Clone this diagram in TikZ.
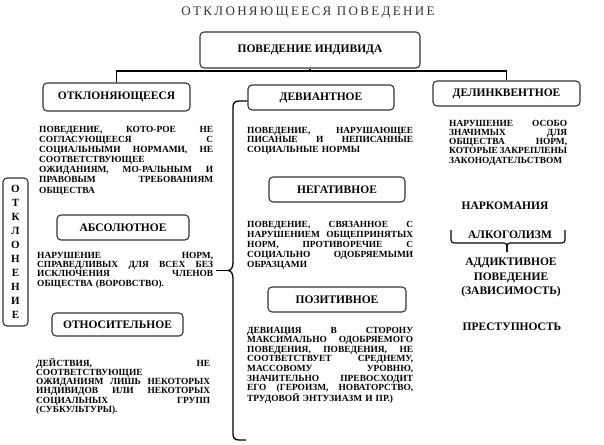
\documentclass[tikz,border=0pt]{standalone}
\usepackage{fontspec}
\setmainfont{Liberation Serif}
\newfontfamily\titlefont[LetterSpace=18]{Liberation Serif}
\newcommand\jw{174pt}
\newcommand\J[1]{\leavevmode\hbox to \jw{#1}}
\newcommand\dfont[2]{\fontsize{9.4}{#1}\selectfont\bfseries\renewcommand\jw{#2}}
\tikzset{
  box/.style={draw=black!80, line width=1.1pt, rounded corners=4pt, fill=white,
    font=\fontsize{11.5}{13}\selectfont\bfseries, inner sep=0pt},
  desc/.style={inner sep=0pt, align=left, anchor=base west},
  conn/.style={line width=1.3pt, black},
  word/.style={font=\fontsize{11.5}{14.5}\selectfont\bfseries, align=center, inner sep=0pt}
}
\begin{document}
\begin{tikzpicture}[x=1pt,y=-1pt]
\useasboundingbox (0,0) rectangle (604,444);
% title
\node[font={\fontsize{13}{15}\titlefont}, text=black!80, inner sep=0pt] (title) at (308,13) {ОТКЛОНЯЮЩЕЕСЯ ПОВЕДЕНИЕ};
% boxes
\node[box, minimum width=220pt, minimum height=36pt] (top) at (310,50) {ПОВЕДЕНИЕ ИНДИВИДА};
\node[box, minimum width=147pt, minimum height=28pt] (otk) at (116.5,97) {ОТКЛОНЯЮЩЕЕСЯ};
\node[box, minimum width=146pt, minimum height=25pt] (dev) at (321,97.5) {ДЕВИАНТНОЕ};
\node[box, minimum width=147pt, minimum height=25pt] (del) at (506.5,93.5) {ДЕЛИНКВЕНТНОЕ};
\node[box, minimum width=132pt, minimum height=25pt] (abs) at (123,227.5) {АБСОЛЮТНОЕ};
\node[box, minimum width=131pt, minimum height=23pt] (otn) at (117.5,324.5) {ОТНОСИТЕЛЬНОЕ};
\node[box, minimum width=136pt, minimum height=25pt] (neg) at (337,189.5) {НЕГАТИВНОЕ};
\node[box, minimum width=138pt, minimum height=25pt] (poz) at (337,299.5) {ПОЗИТИВНОЕ};
\node[box, minimum width=25pt, minimum height=148pt, align=center,
  font=\fontsize{11}{14}\selectfont\bfseries] (vert) at (15.5,252)
  {О\\Т\\К\\Л\\О\\Н\\Е\\Н\\И\\Е};
% descriptions
\node[desc, text width=174pt, font=\dfont{10.05}{174pt}] (otktext) at (39,132.7)
 {\J{ПОВЕДЕНИЕ,\hfill КОТО-РОЕ\hfill НЕ}\\
  \J{СОГЛАСУЮЩЕЕСЯ\hfill С}\\
  \J{СОЦИАЛЬНЫМИ\hfill НОРМАМИ,\hfill НЕ}\\
  СООТВЕТСТВУЮЩЕЕ\\
  \J{ОЖИДАНИЯМ,\hfill МО-РАЛЬНЫМ\hfill И}\\
  \J{ПРАВОВЫМ\hfill ТРЕБОВАНИЯМ}\\
  ОБЩЕСТВА};
\node[desc, text width=176pt, font=\dfont{9.4}{176pt}] (abstext) at (37,258)
 {\J{НАРУШЕНИЕ\hfill НОРМ,}\\
  \J{СПРАВЕДЛИВЫХ\hfill ДЛЯ\hfill ВСЕХ\hfill БЕЗ}\\
  \J{ИСКЛЮЧЕНИЯ\hfill ЧЛЕНОВ}\\
  ОБЩЕСТВА (ВОРОВСТВО).};
\node[desc, text width=174pt, font=\dfont{9.3}{174pt}] (otntext) at (36,366)
 {\J{ДЕЙСТВИЯ,\hfill НЕ}\\
  СООТВЕТСТВУЮЩИЕ\\
  \J{ОЖИДАНИЯМ\hfill ЛИШЬ\hfill НЕКОТОРЫХ}\\
  \J{ИНДИВИДОВ\hfill ИЛИ\hfill НЕКОТОРЫХ}\\
  \J{СОЦИАЛЬНЫХ\hfill ГРУПП}\\
  (СУБКУЛЬТУРЫ).};
\node[desc, text width=166pt, font=\dfont{9.5}{166pt}] (devtext) at (247,133)
 {\J{ПОВЕДЕНИЕ,\hfill НАРУШАЮЩЕЕ}\\
  \J{ПИСАНЫЕ\hfill И\hfill НЕПИСАННЫЕ}\\
  СОЦИАЛЬНЫЕ НОРМЫ};
\node[desc, text width=166pt, font=\dfont{10.2}{166pt}] (negtext) at (247,227)
 {\J{ПОВЕДЕНИЕ,\hfill СВЯЗАННОЕ\hfill С}\\
  \J{НАРУШЕНИЕМ\hfill ОБЩЕПРИНЯТЫХ}\\
  \J{НОРМ,\hfill ПРОТИВОРЕЧИЕ\hfill С}\\
  \J{СОЦИАЛЬНО\hfill ОДОБРЯЕМЫМИ}\\
  ОБРАЗЦАМИ};
\node[desc, text width=166pt, font=\dfont{9.6}{166pt}] (poztext) at (247,333)
 {\J{ДЕВИАЦИЯ\hfill В\hfill СТОРОНУ}\\
  \J{МАКСИМАЛЬНО\hfill ОДОБРЯЕМОГО}\\
  \J{ПОВЕДЕНИЯ,\hfill ПОВЕДЕНИЯ,\hfill НЕ}\\
  \J{СООТВЕТСТВУЕТ\hfill СРЕДНЕМУ,}\\
  \J{МАССОВОМУ\hfill УРОВНЮ,}\\
  \J{ЗНАЧИТЕЛЬНО\hfill ПРЕВОСХОДИТ}\\
  \J{ЕГО\hfill (ГЕРОИЗМ,\hfill НОВАТОРСТВО,}\\
  ТРУДОВОЙ ЭНТУЗИАЗМ И ПР.)};
\node[desc, text width=118pt, font=\dfont{9.3}{118pt}] (deltext) at (449,126)
 {\J{НАРУШЕНИЕ\hfill ОСОБО}\\
  \J{ЗНАЧИМЫХ\hfill ДЛЯ}\\
  \J{ОБЩЕСТВА\hfill НОРМ,}\\
  \J{КОТОРЫЕ\hfill ЗАКРЕПЛЕНЫ}\\
  ЗАКОНОДАТЕЛЬСТВОМ};
% right column
\node[word] (nark) at (505,206) {НАРКОМАНИЯ};
\node[word] (alk) at (510,235) {АЛКОГОЛИЗМ};
\node[word] (add) at (511,277.5) {АДДИКТИВНОЕ\\ПОВЕДЕНИЕ\\(ЗАВИСИМОСТЬ)};
\node[word] (prest) at (512,327) {ПРЕСТУПНОСТЬ};
% tree connectors
\coordinate (bar) at (310,71);
\draw[conn] (top.south) -- (bar);
\draw[conn] (otk.north) |- (bar) -| (del.north);
% big brace
\coordinate (btip) at (228,270.5);
\coordinate (bend) at (246,440);
\draw[conn] ([yshift=-3.5pt]dev.west) -- (239,101) .. controls (235,101) and (233,103) .. (233,107)
  -- (233,262.5) .. controls (233,267.5) and (231,270.5) .. (btip)
  .. controls (231,270.5) and (233,273.5) .. (233,278.5)
  -- (233,434) .. controls (233,438) and (235,440) .. (239,440) -- (bend);
\draw[conn] ([xshift=3pt]abstext.east |- btip) -- (btip);
% small brace
\coordinate (sbl) at (451,230);
\coordinate (sbr) at (565,230);
\coordinate (sbt) at (507,252);
\draw[line width=1.1pt, rounded corners=3pt] (sbl) -- (451,243) -- (507,243) -- (sbt);
\draw[line width=1.1pt, rounded corners=3pt] (sbr) -- (565,243) -- (507,243) -- (sbt);
\end{tikzpicture}
\end{document}
